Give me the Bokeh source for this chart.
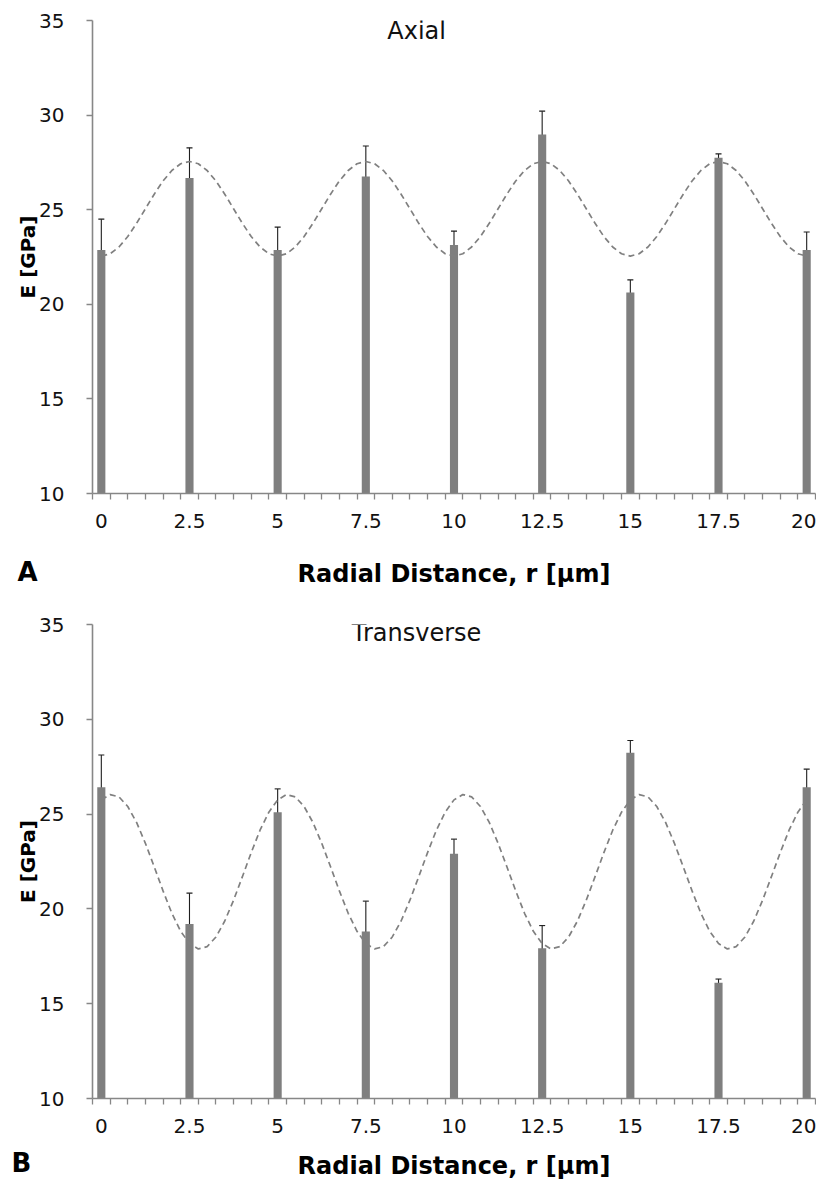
from bokeh.plotting import figure
from bokeh.models import Range1d, FixedTicker, Label, Whisker, ColumnDataSource, TeeHead, Title
from bokeh.layouts import column
from bokeh.embed import file_html
from bokeh.resources import INLINE

# ---- data ----
r = [0, 2.5, 5, 7.5, 10, 12.5, 15, 17.5, 20]
r_labels = ["0", "2.5", "5", "7.5", "10", "12.5", "15", "17.5", "20"]
y_ticks = [10, 15, 20, 25, 30, 35]

axial_E = [22.87, 26.67, 22.87, 26.75, 23.14, 28.98, 20.63, 27.75, 22.87]
axial_err = [1.63, 1.60, 1.21, 1.62, 0.73, 1.23, 0.66, 0.20, 0.95]

trans_E = [26.42, 19.20, 25.10, 18.81, 22.91, 17.92, 28.23, 16.10, 26.42]
trans_err = [1.70, 1.63, 1.23, 1.60, 0.77, 1.20, 0.65, 0.20, 0.95]

# dashed curves, read every quarter unit from r = 0 to r = 20
fit_r = [0.25 * k for k in range(81)]
axial_fit = [
    22.55, 22.67, 23.03, 23.58, 24.28, 25.05, 25.82, 26.52, 27.07, 27.43,
    27.55, 27.43, 27.07, 26.52, 25.82, 25.05, 24.28, 23.58, 23.03, 22.67,
    22.55, 22.67, 23.03, 23.58, 24.28, 25.05, 25.82, 26.52, 27.07, 27.43,
    27.55, 27.43, 27.07, 26.52, 25.82, 25.05, 24.28, 23.58, 23.03, 22.67,
    22.55, 22.67, 23.03, 23.58, 24.28, 25.05, 25.82, 26.52, 27.07, 27.43,
    27.55, 27.43, 27.07, 26.52, 25.82, 25.05, 24.28, 23.58, 23.03, 22.67,
    22.55, 22.67, 23.03, 23.58, 24.28, 25.05, 25.82, 26.52, 27.07, 27.43,
    27.55, 27.43, 27.07, 26.52, 25.82, 25.05, 24.28, 23.58, 23.03, 22.67,
    22.55]
trans_fit = [
    25.75, 26.03, 25.91, 25.40, 24.56, 23.46, 22.22, 20.95, 19.77, 18.82,
    18.17, 17.89, 18.01, 18.52, 19.36, 20.46, 21.70, 22.97, 24.15, 25.10,
    25.75, 26.03, 25.91, 25.40, 24.56, 23.46, 22.22, 20.95, 19.77, 18.82,
    18.17, 17.89, 18.01, 18.52, 19.36, 20.46, 21.70, 22.97, 24.15, 25.10,
    25.75, 26.03, 25.91, 25.40, 24.56, 23.46, 22.22, 20.95, 19.77, 18.82,
    18.17, 17.89, 18.01, 18.52, 19.36, 20.46, 21.70, 22.97, 24.15, 25.10,
    25.75, 26.03, 25.91, 25.40, 24.56, 23.46, 22.22, 20.95, 19.77, 18.82,
    18.17, 17.89, 18.01, 18.52, 19.36, 20.46, 21.70, 22.97, 24.15, 25.10,
    25.75]

X_TITLE = "Radial Distance, r [µm]"
FONT = "DejaVu Sans"
AXIS = "#878787"
BAR = "#7f7f7f"


def make_panel(title, letter, E, err, fit, height, b_top, b_bottom,
               title_standoff, title_y, letter_offset, letter_standoff):
    p = figure(width=816, height=height,
               x_range=Range1d(-0.25, 20.25), y_range=Range1d(10, 35),
               output_backend="svg", toolbar_location=None,
               min_border_left=92, min_border_right=1,
               min_border_top=b_top, min_border_bottom=b_bottom)
    p.grid.visible = False
    p.outline_line_color = None
    p.background_fill_color = "white"
    p.border_fill_color = "white"

    src = ColumnDataSource(dict(
        r=r, E=E,
        upper=[e + d for e, d in zip(E, err)],
        lower=[e - d for e, d in zip(E, err)],
    ))
    p.vbar(x="r", top="E", bottom=0, width=0.23, source=src,
           fill_color=BAR, line_color=None)
    p.line(fit_r, fit, line_color="#808080", line_width=1.7, line_dash="6 4")
    w = Whisker(source=src, base="r", upper="upper", lower="lower",
                dimension="height", line_color="#1e1e1e", line_width=1.1,
                upper_head=TeeHead(size=6, line_color="#1e1e1e", line_width=1.1),
                lower_head=TeeHead(size=6, line_color="#1e1e1e", line_width=1.1))
    p.add_layout(w)

    bounds = [-0.25 + 0.5 * k for k in range(42)]
    xa = p.xaxis[0]
    xa.ticker = FixedTicker(ticks=r, minor_ticks=bounds)
    xa.major_label_overrides = {v: s for v, s in zip(r, r_labels)}
    xa.major_tick_out = 0
    xa.major_tick_in = 0
    xa.minor_tick_out = 6
    xa.minor_tick_in = 0
    xa.minor_tick_line_color = AXIS
    xa.minor_tick_line_width = 1.3
    xa.axis_line_color = AXIS
    xa.axis_line_width = 1.6
    xa.major_label_text_font = FONT
    xa.major_label_text_font_size = "20px"
    xa.major_label_text_color = "#111111"
    xa.major_label_standoff = 14
    xa.axis_label = X_TITLE
    xa.axis_label_text_font = FONT
    xa.axis_label_text_font_style = "bold"
    xa.axis_label_text_font_size = "24px"
    xa.axis_label_text_color = "#000000"
    xa.axis_label_standoff = title_standoff

    ya = p.yaxis[0]
    ya.ticker = FixedTicker(ticks=y_ticks)
    ya.major_tick_out = 6
    ya.major_tick_in = 0
    ya.major_tick_line_color = AXIS
    ya.major_tick_line_width = 1.3
    ya.minor_tick_line_color = None
    ya.axis_line_color = AXIS
    ya.axis_line_width = 1.6
    ya.major_label_text_font = FONT
    ya.major_label_text_font_size = "20px"
    ya.major_label_text_color = "#111111"
    ya.major_label_standoff = 22
    ya.axis_label = "E [GPa]"
    ya.axis_label_text_font = FONT
    ya.axis_label_text_font_style = "bold"
    ya.axis_label_text_font_size = "20px"
    ya.axis_label_text_color = "#000000"
    ya.axis_label_standoff = -4

    p.add_layout(Label(x=8.94, y=title_y, text=title, text_font=FONT,
                       text_font_size="24px", text_align="center",
                       text_baseline="middle", text_color="#111111"))
    # panel letter, pulled up into the row of the axis title
    p.add_layout(Title(text=letter, align="left", offset=letter_offset,
                       vertical_align="top", standoff=letter_standoff,
                       text_font=FONT, text_font_style="bold",
                       text_font_size="26px", text_color="#000000"), "below")
    return p


pA = make_panel("Axial", "A", axial_E, axial_err, axial_fit,
                height=598, b_top=20, b_bottom=105,
                title_standoff=29, title_y=34.47,
                letter_offset=-75, letter_standoff=-68)
pB = make_panel("Transverse", "B", trans_E, trans_err, trans_fit,
                height=590, b_top=26, b_bottom=90,
                title_standoff=16, title_y=34.53,
                letter_offset=-81, letter_standoff=-70)

layout = column(pA, pB, spacing=0)
open("out.html", "w").write(file_html(layout, INLINE))
